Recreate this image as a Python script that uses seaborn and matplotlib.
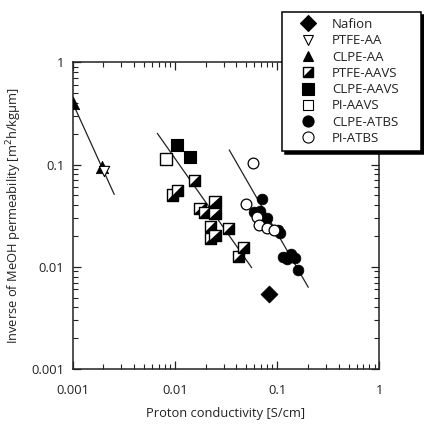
import numpy as np
import pandas as pd
import matplotlib
matplotlib.use("Agg")
import matplotlib.pyplot as plt
import seaborn as sns
from matplotlib.path import Path
from matplotlib.lines import Line2D
from matplotlib.ticker import FixedLocator, FixedFormatter, LogLocator, NullFormatter

# ---- data ----
nafion_x = [0.084]
nafion_y = [0.0054]

ptfe_aa_x = [0.00202]
ptfe_aa_y = [0.087]

clpe_aa_x = [0.00100, 0.00192]
clpe_aa_y = [0.40, 0.095]

ptfe_aavs_x = [0.0095, 0.0106, 0.0154, 0.0176, 0.0193, 0.0247, 0.0247,
               0.0221, 0.0224, 0.0247, 0.0333, 0.0418, 0.0468]
ptfe_aavs_y = [0.0503, 0.0555, 0.0695, 0.0373, 0.0338, 0.0433, 0.0333,
               0.0247, 0.0190, 0.0204, 0.0238, 0.0125, 0.0155]

clpe_aavs_x = [0.0104, 0.0141]
clpe_aavs_y = [0.155, 0.119]

pi_aavs_x = [0.0082]
pi_aavs_y = [0.1125]

clpe_atbs_x = [0.0706, 0.0594, 0.068, 0.079, 0.107, 0.103, 0.1136, 0.124, 0.136, 0.150, 0.1615]
clpe_atbs_y = [0.0457, 0.0346, 0.0354, 0.0298, 0.0212, 0.0230, 0.0125, 0.0120, 0.0133, 0.0123, 0.0094]

pi_atbs_x = [0.0586, 0.0497, 0.064, 0.067, 0.079, 0.093]
pi_atbs_y = [0.104, 0.041, 0.0304, 0.0256, 0.0238, 0.0229]

# fit lines (end points)
line_aa_x = [0.00100, 0.00255]
line_aa_y = [0.40, 0.051]
line_aavs_x = [0.00673, 0.0564]
line_aavs_y = [0.202, 0.0098]
line_atbs_x = [0.034, 0.2018]
line_atbs_y = [0.139, 0.0063]

xticks = [0.001, 0.01, 0.1, 1]
xtick_labels = ["0.001", "0.01", "0.1", "1"]
yticks = [0.001, 0.01, 0.1, 1]
ytick_labels = ["0.001", "0.01", "0.1", "1"]

legend_labels = ["Nafion", "PTFE-AA", "CLPE-AA", "PTFE-AAVS", "CLPE-AAVS",
                 "PI-AAVS", "CLPE-ATBS", "PI-ATBS"]

# ---- plotting ----
sns.set_style("ticks")
plt.rcParams['font.family'] = ['Open Sans', 'DejaVu Sans']
txt = '#222222'
fs = 9.3
fs_leg = 9.5

fig = plt.figure(figsize=(4.24, 4.24), dpi=100)
ax = fig.add_axes([72.7/424, 1-369/424, (379.3-72.7)/424, (369-62.3)/424])

for lx, ly in [(line_aa_x, line_aa_y), (line_aavs_x, line_aavs_y), (line_atbs_x, line_atbs_y)]:
    sns.lineplot(x=lx, y=ly, ax=ax, color='#222222', lw=0.9, zorder=2)

half_tri = Path([(-1, -1), (1, -1), (1, 1), (-1, -1)],
                [Path.MOVETO, Path.LINETO, Path.LINETO, Path.CLOSEPOLY])

msq = 8.0
s_sq = msq**2

def scat(x, y, **kw):
    sns.scatterplot(x=x, y=y, ax=ax, legend=False, **kw)

# PTFE-AAVS half-filled squares (drawn point by point so overlaps look layered)
for i, (xx, yy) in enumerate(zip(ptfe_aavs_x, ptfe_aavs_y)):
    z = 3 + i * 0.01
    scat([xx], [yy], marker='s', s=s_sq, color='white', edgecolor='none', linewidth=0, zorder=z)
    scat([xx], [yy], marker=half_tri, s=s_sq, color='black', edgecolor='none', linewidth=0, zorder=z + 0.001)
    scat([xx], [yy], marker='s', s=s_sq, facecolor='none', edgecolor='black', linewidth=1.0, zorder=z + 0.002)

scat(pi_aavs_x, pi_aavs_y, marker='s', s=s_sq, color='white', edgecolor='black', linewidth=1.0, zorder=3)
scat(clpe_aavs_x, clpe_aavs_y, marker='s', s=s_sq, color='black', edgecolor='black', linewidth=0.8, zorder=3)
scat(clpe_aa_x, clpe_aa_y, marker='^', s=80, color='black', edgecolor='black', linewidth=0.5, zorder=3)
scat(ptfe_aa_x, ptfe_aa_y, marker='v', s=55, color='white', edgecolor='black', linewidth=0.8, zorder=4)
scat(clpe_atbs_x, clpe_atbs_y, marker='o', s=60, color='black', edgecolor='black', linewidth=0.5, zorder=3)
scat(pi_atbs_x, pi_atbs_y, marker='o', s=60, color='white', edgecolor='black', linewidth=0.9, zorder=4)
scat(nafion_x, nafion_y, marker='D', s=75, color='black', edgecolor='black', linewidth=0.5, zorder=4)

ax.set_xscale('log')
ax.set_yscale('log')
ax.set_xlim(0.001, 1)
ax.set_ylim(0.001, 1)

ax.xaxis.set_major_locator(FixedLocator(xticks))
ax.xaxis.set_major_formatter(FixedFormatter(xtick_labels))
ax.yaxis.set_major_locator(FixedLocator(yticks))
ax.yaxis.set_major_formatter(FixedFormatter(ytick_labels))
for a in (ax.xaxis, ax.yaxis):
    a.set_minor_locator(LogLocator(base=10, subs=np.arange(2, 10)))
    a.set_minor_formatter(NullFormatter())

ax.tick_params(which='both', direction='in', top=True, right=True, color='#222222')
ax.tick_params(which='major', length=6, width=0.9, labelsize=fs, labelcolor=txt)
ax.tick_params(axis='x', which='major', pad=11)
ax.tick_params(axis='y', which='major', pad=6)
ax.tick_params(which='minor', length=3.5, width=0.8)
for sp in ax.spines.values():
    sp.set_linewidth(1.1)
    sp.set_color('#222222')

ax.set_xlabel("Proton conductivity [S/cm]", fontsize=fs, color=txt, labelpad=7)
ax.set_ylabel("Inverse of MeOH permeability [m$^2$h/kg\u03bcm]", fontsize=fs, color=txt, labelpad=5)

# legend
def mk(marker, fc, ms=7, mew=0.8):
    return Line2D([], [], marker=marker, linestyle='none', markerfacecolor=fc,
                  markeredgecolor='black', markersize=ms, markeredgewidth=mew)

h_half = (mk('s', 'white', 7.5, 0.0),
          Line2D([], [], marker=half_tri, linestyle='none', markerfacecolor='black',
                 markeredgecolor='none', markersize=7.5, markeredgewidth=0),
          mk('s', 'none', 7.5, 1.0))
handles = [mk('D', 'black', 8), mk('v', 'white', 7), mk('^', 'black', 7), h_half,
           mk('s', 'black', 8), mk('s', 'white', 7.5), mk('o', 'black', 8), mk('o', 'white', 8)]

leg = fig.legend(handles, legend_labels, loc='upper left',
                 bbox_to_anchor=(282/424, 1-152/424, 139/424, 140/424),
                 mode='expand', frameon=True, fancybox=False,
                 shadow={'color': 'black', 'alpha': 1.0, 'ox': 2, 'oy': -2},
                 fontsize=fs_leg, handlelength=3.1, handletextpad=0.25,
                 borderpad=0.45, labelspacing=0.25, borderaxespad=0)
leg.get_frame().set_edgecolor('black')
leg.get_frame().set_linewidth(1.1)
leg.get_frame().set_alpha(1.0)
for t in leg.get_texts():
    t.set_color(txt)

fig.savefig("out.png", dpi=100)
